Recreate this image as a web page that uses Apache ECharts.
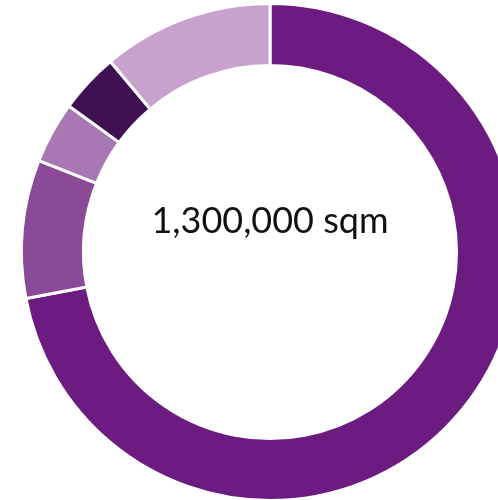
<!DOCTYPE html>
<html>
<head>
<meta charset="utf-8">
<script src="https://cdn.jsdelivr.net/npm/echarts@6/dist/echarts.min.js"></script>
<style>
  html, body { margin: 0; padding: 0; background: #fff; }
  #chart { width: 498px; height: 500px; }
</style>
</head>
<body>
<div id="chart"></div>
<script>
// share of total area (clockwise from 12 o'clock)
const categories = ['A', 'B', 'C', 'D', 'E'];
const values = [72.0, 9.0, 4.0, 3.9, 11.1];
const colors = ['#6c1c81', '#8a4a98', '#a778b3', '#3f1152', '#c6a2cc'];
const centerLabel = '1,300,000 sqm';

const chart = echarts.init(document.getElementById('chart'));

chart.setOption({
    animation: false,
    title: {
        text: centerLabel,
        left: 265,
        top: 216,
        textAlign: 'center',
        textVerticalAlign: 'middle',
        textStyle: {
            fontFamily: 'Lato',
            fontWeight: 'normal',
            fontSize: 36,
            color: '#111',
        },
    },
    series: [
        {
            type: 'pie',
            center: [270, 252],
            radius: [186.5, 248.5],
            startAngle: 90,
            clockwise: true,
            label: { show: false },
            labelLine: { show: false },
            silent: true,
            itemStyle: {
                borderColor: '#fff',
                borderWidth: 3,
            },
            data: categories.map((name, i) => ({
                name,
                value: values[i],
                itemStyle: { color: colors[i] },
            })),
        },
    ],
});
</script>
</body>
</html>
